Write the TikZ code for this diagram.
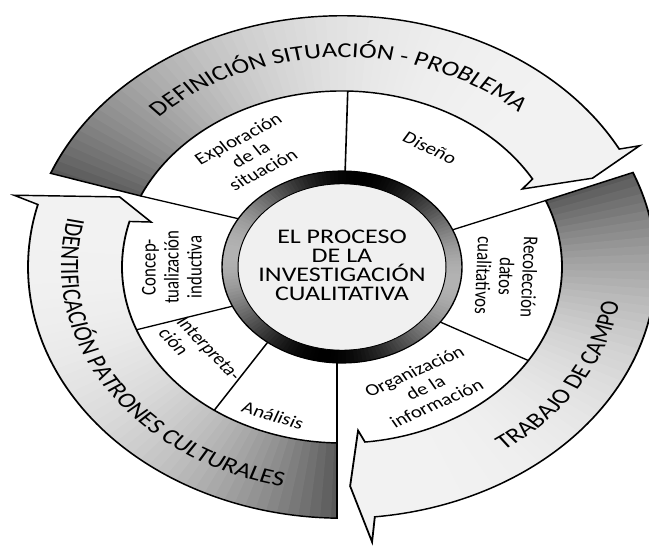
\documentclass[tikz,border=0pt]{standalone}
\usepackage{fontspec}
\setmainfont{Carlito}
\usetikzlibrary{decorations.text}
\newcommand\lblfnt{\fontsize{10.5}{11.5}\selectfont}
\newcommand\ctrfnt{\fontsize{13}{12}\selectfont}
\newcommand\bandfnt{\fontsize{13.3}{14}\selectfont}
\def\bandA{(156.2:220) -- (158.1:314) arc[start angle=158.1, end angle=28, radius=314] -- (27:334) -- (23.9:274) -- (28.4:205) -- (30:220) arc[start angle=30, end angle=156.2, radius=220] -- cycle}
\def\bandB{(22.2:220) -- (22.1:314) arc[start angle=22.1, end angle=-84, radius=314] -- (-85:345) -- (-88.3:274) -- (-85.5:205) -- (-84:220) arc[start angle=-84, end angle=22.2, radius=220] -- cycle}
\def\bandC{(268.7:220) -- (269.1:314) arc[start angle=269.1, end angle=165.6, radius=314] -- (164.7:340) -- (158.5:239) -- (163.6:199) -- (165:220) arc[start angle=165, end angle=268.7, radius=220] -- cycle}
\begin{document}
\begin{tikzpicture}[x=0.5pt,y=0.5pt,
  outline/.style={draw=black, line width=0.9pt, line join=miter},
  sep/.style={draw=black, line width=0.8pt},
  lbl/.style={font=\lblfnt, align=center, inner sep=0pt},
  ctr/.style={font=\ctrfnt, align=center, inner sep=0pt},
  bandtext/.style={decorate, decoration={text along path, text align=center, text={#1}}}]
\useasboundingbox (0,0) rectangle (649,548);
\fill[white] (0,0) rectangle (649,548);
\begin{scope}[transform canvas={shift={(342,281)},yscale=0.8}]
  % white ring of sectors
  \fill[white] (0,0) circle[radius=220];
  % band A shading
  \begin{scope}
    \clip \bandA;
    \foreach \i in {0,...,68} {
      \pgfmathsetmacro\th{159-2*\i}
      \pgfmathsetmacro\t{min(1,\i/64)}
      \pgfmathsetmacro\g{5+60*(1-\t)^3}
      \fill[black!\g] (0,0) -- (\th:400) arc[start angle=\th, end angle=\th-2.4, radius=400] -- cycle;
    }
  \end{scope}
  % band B shading
  \begin{scope}
    \clip \bandB;
    \foreach \i in {0,...,58} {
      \pgfmathsetmacro\th{23-2*\i}
      \pgfmathsetmacro\t{min(1,\i/53)}
      \pgfmathsetmacro\g{5+60*(1-\t)^3}
      \fill[black!\g] (0,0) -- (\th:400) arc[start angle=\th, end angle=\th-2.4, radius=400] -- cycle;
    }
  \end{scope}
  % band C shading
  \begin{scope}
    \clip \bandC;
    \foreach \i in {0,...,58} {
      \pgfmathsetmacro\th{270-2*\i}
      \pgfmathsetmacro\t{min(1,\i/55)}
      \pgfmathsetmacro\g{5+60*(1-\t)^3}
      \fill[black!\g] (0,0) -- (\th:400) arc[start angle=\th, end angle=\th-2.4, radius=400] -- cycle;
    }
  \end{scope}
  \path[outline] \bandA;
  \path[outline] \bandB;
  \path[outline] \bandC;
  % sector separators
  \draw[sep] (88.5:120) -- (88.5:220);
  \draw[sep] (149.8:120) -- (156.2:220);
  \draw[sep] (204.1:120) -- (200.9:220);
  \draw[sep] (231.7:120) -- (234.5:220);
  \draw[sep] (267.6:120) -- (268.7:220);
  \draw[sep] (-35:120) -- (-32.1:220);
  \draw[sep] (22.8:120) -- (22.2:220);
  % central ring
  \fill[black!6] (0,0) circle[radius=120];
  \begin{scope}[even odd rule]
    \clip (0,0) circle[radius=120] (0,0) circle[radius=104];
    \foreach \i in {0,...,179} {
      \pgfmathsetmacro\th{2*\i}
      \pgfmathsetmacro\g{30+70*(1+cos(2*(\th-80)))/2}
      \fill[black!\g] (0,0) -- (\th:130) arc[start angle=\th, end angle=\th+2.4, radius=130] -- cycle;
    }
  \end{scope}
  \draw[line width=0.7pt] (0,0) circle[radius=120];
  \draw[line width=0.5pt] (0,0) circle[radius=104];
  % central text
  \node[ctr] (centro) at (0,2) {EL PROCESO\\DE LA\\INVESTIGACIÓN\\CUALITATIVA};
  % sector labels
  \node[lbl, rotate=33] (explo) at (123:168) {Exploración\\de la\\situación};
  \node[lbl, rotate=-30.6] (dise) at (59.4:173) {Diseño};
  \node[lbl, rotate=-92] (recol) at (-4:165) {Recolección\\datos\\cualitativos};
  \node[lbl, rotate=29] (organ) at (-61:172) {Organización\\de la\\información};
  \node[lbl, rotate=-20.4] (anal) at (249.6:198) {Análisis};
  \node[lbl, rotate=-52.5, align=left] (interp) at (217.5:179) {Interpreta-\\ción};
  \node[lbl, rotate=90] (concep) at (180:170) {Concep-\\tualización\\inductiva};
  % band texts
  \path[bandtext={|\bandfnt|DEFINICIÓN SITUACIÓN - PROBLEMA}] (151:262) arc[start angle=151, end angle=31, radius=262];
  \path[bandtext={|\bandfnt|IDENTIFICACIÓN PATRONES CULTURALES}] (162.5:281) arc[start angle=162.5, end angle=262.5, radius=281];
  \path[bandtext={|\bandfnt|TRABAJO DE CAMPO}] (-62:281) arc[start angle=-62, end angle=-2, radius=281];
\end{scope}
\end{tikzpicture}
\end{document}
